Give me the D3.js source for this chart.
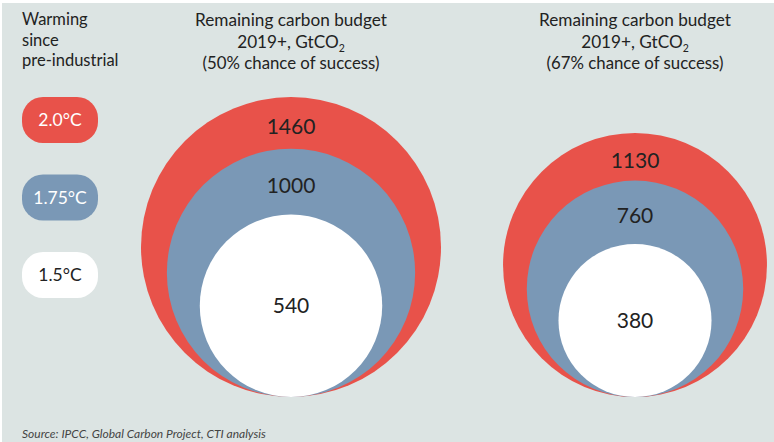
<!DOCTYPE html>
<html><head><meta charset="utf-8">
<script src="https://cdn.jsdelivr.net/npm/d3@7"></script>
<style>
html,body{margin:0;padding:0;background:#fff;}
svg{display:block;}
text{font-family:Lato,"Noto Sans",sans-serif;}
</style></head>
<body>
<script>
// ---- data ----
const levels = ["2.0°C", "1.75°C", "1.5°C"];
const budget50 = [1460, 1000, 540];
const budget67 = [1130, 760, 380];
const panelTitles = [
  ["Remaining carbon budget", "2019+, GtCO", "(50% chance of success)"],
  ["Remaining carbon budget", "2019+, GtCO", "(67% chance of success)"]
];
const legendTitle = ["Warming", "since", "pre-industrial"];
const source = "Source: IPCC, Global Carbon Project, CTI analysis";

const W = 774, H = 442;
const fills = ["#e8524a", "#7a98b6", "#ffffff"];
const textFill = ["#ffffff", "#ffffff", "#222222"];

const svg = d3.select("body").append("svg").attr("width", W).attr("height", H);
svg.append("rect").attr("x", 2).attr("y", 3).attr("width", W - 2).attr("height", H - 3).attr("fill", "#dce4e3");

const r = d3.scaleSqrt().domain([0, 1460]).range([0, 150]);
const baseY = 397;
const panelX = d3.scaleOrdinal().domain([0, 1]).range([291, 635]);

// legend title
svg.append("g").selectAll("text").data(legendTitle).join("text")
  .attr("x", 22).attr("y", (d, i) => 25 + i * 20.5)
  .attr("font-size", 16.5).attr("fill", "#222").text(d => d);

// legend boxes
const leg = svg.append("g").selectAll("g").data(levels).join("g")
  .attr("transform", (d, i) => `translate(22,${97 + i * 77.5})`);
leg.append("rect").attr("width", 76).attr("height", 46).attr("rx", 21).attr("ry", 21)
  .attr("fill", (d, i) => fills[i]);
leg.append("text").attr("x", 38).attr("y", 23).attr("dy", "0.36em")
  .attr("text-anchor", "middle").attr("font-size", 17.5)
  .attr("fill", (d, i) => textFill[i]).text(d => d);

// panels
[budget50, budget67].forEach((vals, p) => {
  const cx = panelX(p);
  const g = svg.append("g");
  g.selectAll("circle").data(vals).join("circle")
    .attr("cx", cx).attr("cy", d => baseY - r(d)).attr("r", d => r(d))
    .attr("fill", (d, i) => fills[i]);
  g.selectAll("text.val").data(vals).join("text").attr("class", "val")
    .attr("x", cx)
    .attr("y", (d, i) => i < vals.length - 1
      ? ((baseY - 2 * r(d)) + (baseY - 2 * r(vals[i + 1]))) / 2 + 3.5
      : baseY - r(d))
    .attr("dy", "0.36em").attr("text-anchor", "middle")
    .attr("font-size", 21).attr("fill", "#222").text(d => d);
  // title
  const t = panelTitles[p];
  const tg = g.append("g").attr("font-size", 17.2).attr("fill", "#222").attr("text-anchor", "middle");
  tg.append("text").attr("x", cx).attr("y", 26).text(t[0]);
  const l2 = tg.append("text").attr("x", cx).attr("y", 47.5);
  l2.append("tspan").text(t[1]);
  l2.append("tspan").attr("font-size", 10.5).attr("dy", 4).text("2");
  tg.append("text").attr("x", cx).attr("y", 69).attr("font-size", 16.8).text(t[2]);
});

// source
svg.append("text").attr("x", 22).attr("y", 438).attr("font-size", 12)
  .attr("font-style", "italic").attr("fill", "#444").text(source);
</script>
</body></html>
